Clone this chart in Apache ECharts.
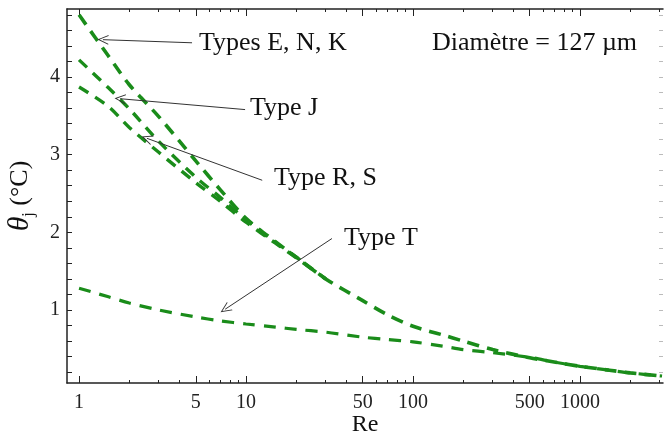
<!DOCTYPE html>
<html>
<head>
<meta charset="utf-8">
<script src="https://cdn.jsdelivr.net/npm/echarts@6/dist/echarts.min.js"></script>
<style>
html,body{margin:0;padding:0;background:#fff;}
#chart{width:664px;height:435px;}
</style>
</head>
<body>
<div id="chart"></div>
<script>
// ---- data ----
const reValues = [1, 1.5, 2, 3, 5, 7, 10, 15, 20, 30, 50, 70, 100, 150, 200, 300, 500, 700, 1000, 1500, 2000, 3100];
const typeENK = [4.80, 4.27, 3.90, 3.49, 2.92, 2.55, 2.18, 1.88, 1.68, 1.40, 1.12, 0.94, 0.79, 0.68, 0.60, 0.49, 0.385, 0.33, 0.275, 0.225, 0.19, 0.15];
// Types J and R, S merge with the E, N, K curve beyond Re ≈ 30
const typeJ   = [4.22, 3.86, 3.59, 3.17, 2.71, 2.45, 2.16, 1.87, 1.68, 1.40];
const typeRS  = [3.87, 3.62, 3.35, 3.03, 2.64, 2.40, 2.13, 1.86, 1.67, 1.40];
const typeT   = [1.28, 1.17, 1.09, 1.00, 0.91, 0.86, 0.82, 0.78, 0.75, 0.715, 0.65, 0.62, 0.59, 0.535, 0.49, 0.45, 0.39, 0.33, 0.275, 0.225, 0.19, 0.15];

const xMajorTicks = [1, 5, 10, 50, 100, 500, 1000];
const xMinorTicks = [2, 3, 4, 6, 7, 8, 9, 20, 30, 40, 60, 70, 80, 90, 200, 300, 400, 600, 700, 800, 900, 2000, 3000];
const yTickLabels = [1, 2, 3, 4];
const yTicks = [0.2, 0.4, 0.6, 0.8, 1, 1.2, 1.4, 1.6, 1.8, 2, 2.2, 2.4, 2.6, 2.8, 3, 3.2, 3.4, 3.6, 3.8, 4, 4.2, 4.4, 4.6, 4.8];

// annotation arrows: [start, tip] in data coordinates
const arrowENK = [[4.75, 4.44], [1.39, 4.48]];
const arrowJ   = [[9.87, 3.58], [1.76, 3.72]];
const arrowRS  = [[12.5, 2.67], [2.55, 3.21]];
const arrowT   = [[32.7, 1.92], [7.5, 1.01]];

const X_MIN = 0.847, X_MAX = 3141, Y_MIN = 0.06, Y_MAX = 4.875;
const GREEN = '#1a8c1a';
const SERIF = '"Liberation Serif", "Times New Roman", serif';

const chart = echarts.init(document.getElementById('chart'), null, {renderer: 'canvas'});

function pairs(ys) { return ys.map((y, i) => [reValues[i], y]); }

function xAxisBase(pos, ticks, len, showLine, showLabel) {
  return {
    type: 'log', logBase: 10, position: pos, min: X_MIN, max: X_MAX,
    gridIndex: 0,
    axisLine: {show: showLine, lineStyle: {color: '#222', width: 1.5}},
    axisTick: {show: true, inside: true, length: len, customValues: ticks, lineStyle: {color: '#222', width: 1}},
    axisLabel: showLabel ? {show: true, customValues: xMajorTicks, formatter: v => String(Math.round(v)),
      color: '#222', fontFamily: SERIF, fontSize: 20, margin: 10} : {show: false},
    splitLine: {show: false}, minorTick: {show: false}
  };
}

const arrowSymbol = 'path://M5,0 L10,11 L9,11 L5,2.2 L1,11 L0,11 Z';
const LABEL_FONT = '26px ' + SERIF;

const option = {
  animation: false,
  backgroundColor: '#fff',
  grid: {left: 67, right: 1, top: 9, bottom: 52, containLabel: false, outerBoundsMode: 'none'},
  xAxis: [
    Object.assign(xAxisBase('bottom', xMajorTicks, 7, true, true), {
      name: 'Re', nameLocation: 'middle', nameGap: 30, nameMoveOverlap: false,
      nameTextStyle: {fontFamily: SERIF, fontSize: 24, color: '#111'}
    }),
    xAxisBase('bottom', xMinorTicks, 3, false, false),
    xAxisBase('top', xMajorTicks, 7, true, false),
    xAxisBase('top', xMinorTicks, 3, false, false)
  ],
  yAxis: [
    {
      type: 'value', position: 'left', min: Y_MIN, max: Y_MAX,
      axisLine: {show: true, lineStyle: {color: '#222', width: 1.5}},
      axisTick: {show: true, inside: true, length: 5, customValues: yTicks, lineStyle: {color: '#222'}},
      axisLabel: {show: true, customValues: yTickLabels, color: '#222', fontFamily: SERIF, fontSize: 20, margin: 7},
      splitLine: {show: false},
      name: '{t|θ}{s|j}{n| (°C)}', nameLocation: 'middle', nameGap: 30, nameRotate: 90, nameMoveOverlap: false,
      nameTextStyle: {
        color: '#111', padding: [0, 0, 0, 0],
        rich: {
          t: {fontFamily: SERIF, fontStyle: 'italic', fontSize: 30, lineHeight: 34, color: '#111'},
          s: {fontFamily: SERIF, fontSize: 16, lineHeight: 14, verticalAlign: 'bottom', color: '#111'},
          n: {fontFamily: SERIF, fontSize: 26, lineHeight: 34, color: '#111'}
        }
      }
    },
    {
      type: 'value', position: 'right', min: Y_MIN, max: Y_MAX,
      axisLine: {show: false},
      axisTick: {show: true, inside: true, length: 4, customValues: yTicks, lineStyle: {color: '#bbb'}},
      axisLabel: {show: false}, splitLine: {show: false}
    }
  ],
  series: [
    {name: 'Types E, N, K', type: 'line', data: pairs(typeENK), smooth: 0.3, showSymbol: false,
     lineStyle: {color: GREEN, width: 3.6, type: [12, 8]}, xAxisIndex: 0, yAxisIndex: 0, z: 3},
    {name: 'Type J', type: 'line', data: pairs(typeJ), smooth: 0.3, showSymbol: false,
     lineStyle: {color: GREEN, width: 3.4, type: [11, 8]}, xAxisIndex: 0, yAxisIndex: 0, z: 3},
    {name: 'Type R, S', type: 'line', data: pairs(typeRS), smooth: 0.3, showSymbol: false,
     lineStyle: {color: GREEN, width: 3.4, type: [11, 8]}, xAxisIndex: 0, yAxisIndex: 0, z: 3},
    {name: 'Type T', type: 'line', data: pairs(typeT), smooth: 0.3, showSymbol: false,
     lineStyle: {color: GREEN, width: 3.2, type: [12, 9]}, xAxisIndex: 0, yAxisIndex: 0, z: 3},
    {name: 'arrows', type: 'line', data: [], xAxisIndex: 0, yAxisIndex: 0, silent: true,
     markLine: {
       silent: true, animation: false,
       symbol: ['none', arrowSymbol], symbolSize: [10, 11],
       label: {show: false},
       lineStyle: {color: '#333', width: 1, type: 'solid'},
       emphasis: {disabled: true},
       data: [
         [{coord: arrowENK[0]}, {coord: arrowENK[1]}],
         [{coord: arrowJ[0]}, {coord: arrowJ[1]}],
         [{coord: arrowRS[0]}, {coord: arrowRS[1]}],
         [{coord: arrowT[0]}, {coord: arrowT[1]}]
       ]
     }}
  ],
  graphic: [
    {type: 'text', left: 199, top: 30, style: {text: 'Types E, N, K', font: LABEL_FONT, fill: '#111'}},
    {type: 'text', left: 432, top: 30, style: {text: 'Diamètre = 127 µm', font: LABEL_FONT, fill: '#111'}},
    {type: 'text', left: 250, top: 95, style: {text: 'Type J', font: LABEL_FONT, fill: '#111'}},
    {type: 'text', left: 274, top: 165, style: {text: 'Type R, S', font: LABEL_FONT, fill: '#111'}},
    {type: 'text', left: 344, top: 225, style: {text: 'Type T', font: LABEL_FONT, fill: '#111'}}
  ]
};
chart.setOption(option);
</script>
</body>
</html>
